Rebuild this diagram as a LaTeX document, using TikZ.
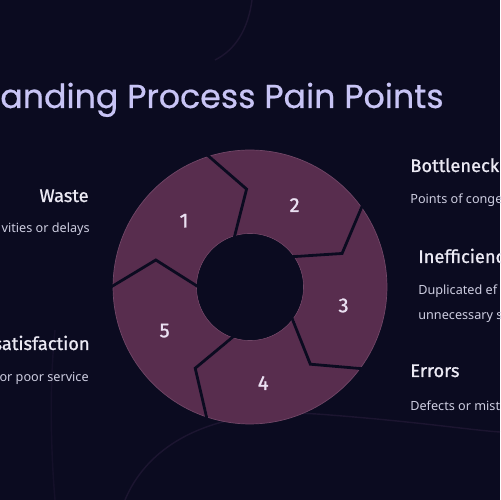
\documentclass[tikz,border=0pt]{standalone}
\usepackage{fontspec}
\usetikzlibrary{calc}
\setmainfont{Noto Sans}
\newfontfamily\titlefont{Poppins}[FakeBold=0.6]
\newfontfamily\headfont{Fira Sans}[FakeBold=1.0]
\newfontfamily\numfont{Fira Sans}[FakeBold=1.2]
\definecolor{bg}{RGB}{11,11,32}
\definecolor{seg}{RGB}{88,45,78}
\definecolor{segedge}{RGB}{112,70,102}
\definecolor{titlecol}{RGB}{200,196,245}
\definecolor{headcol}{RGB}{236,234,244}
\definecolor{bodycol}{RGB}{205,205,224}
\definecolor{numcol}{RGB}{234,224,242}
\definecolor{glow}{RGB}{60,40,80}
\tikzset{
  segfill/.style={fill=seg, draw=segedge, line width=0.4pt},
  sepline/.style={draw=bg, line width=1.6pt, line join=miter},
  numlabel/.style={text=numcol, font=\numfont\fontsize{11.5}{13}\selectfont, inner sep=0pt},
  headtxt/.style={text=headcol, font=\headfont\fontsize{10.4}{12}\selectfont, inner sep=0pt},
  bodytxt/.style={text=bodycol, font=\fontsize{7.2}{9}\selectfont, inner sep=0pt},
  faint/.style={draw=glow, opacity=0.35, line width=0.8pt}
}
\begin{document}
\begin{tikzpicture}[x=0.02cm,y=0.02cm]
\useasboundingbox (0,0) rectangle (500,500);
\fill[bg] (0,0) rectangle (500,500);
% faint background curves
\draw[faint] (252,500) .. controls (248,470) and (235,450) .. (215,440);
\draw[faint] (125,0) .. controls (150,60) and (220,95) .. (330,85) .. controls (420,78) and (470,70) .. (500,68);
\draw[faint, opacity=0.2] (55,0) .. controls (50,60) and (50,120) .. (55,170);
% ring
\begin{scope}[shift={(250,213)}]
\foreach \k/\lab in {0/1,1/2,2/3,3/4,4/5}{
  \pgfmathsetmacro{\a}{180-72*\k}
  \pgfmathsetmacro{\b}{\a-72}
  \pgfmathsetmacro{\ak}{\a-16}
  \pgfmathsetmacro{\bk}{\b-16}
  \pgfmathsetmacro{\m}{\a-46}
  \path[segfill] (\a:1.07cm) -- (\ak:1.96cm) -- (\a:2.74cm)
     arc[start angle=\a, end angle=\b, radius=2.74cm]
     -- (\bk:1.96cm) -- (\b:1.07cm)
     arc[start angle=\b, end angle=\a, radius=1.07cm] -- cycle;
  \node[numlabel] (n\lab) at ($(\m:1.9cm)+(0,-0.04cm)$) {\lab};
}
\foreach \k in {0,1,2,3,4}{
  \pgfmathsetmacro{\a}{180-72*\k}
  \pgfmathsetmacro{\ak}{\a-16}
  \draw[sepline] (\a:1.03cm) -- (\ak:1.96cm) -- (\a:2.78cm);
}
\fill[bg] (0,0) circle[radius=1.06cm];
\end{scope}
% title
\node[anchor=base west, inner sep=0pt, text=titlecol, font=\titlefont\fontsize{18.9}{22}\selectfont] (title) at (0,392) {anding Process Pain Points};
% left texts
\node[headtxt, anchor=base east] (waste) at (89,298) {Waste};
\node[bodytxt, anchor=base east] (wasteb) at (90,267) {vities or delays};
\node[headtxt, anchor=base east] (sat) at (90,150) {satisfaction};
\node[bodytxt, anchor=base east] (satb) at (89,118) {or poor service};
% right texts
\node[headtxt, anchor=base west] (bott) at (410,328) {Bottleneck};
\node[bodytxt, anchor=base west] (bottb) at (410,296) {Points of conge};
\node[headtxt, anchor=base west] (ineff) at (418,237) {Inefficienc};
\node[bodytxt, anchor=base west] (ineffb) at (418,205) {Duplicated ef};
\node[bodytxt, anchor=base west] (ineffc) at (418,180) {unnecessary s};
\node[headtxt, anchor=base west] (err) at (410,123) {Errors};
\node[bodytxt, anchor=base west] (errb) at (410,89) {Defects or mist};
\end{tikzpicture}
\end{document}
